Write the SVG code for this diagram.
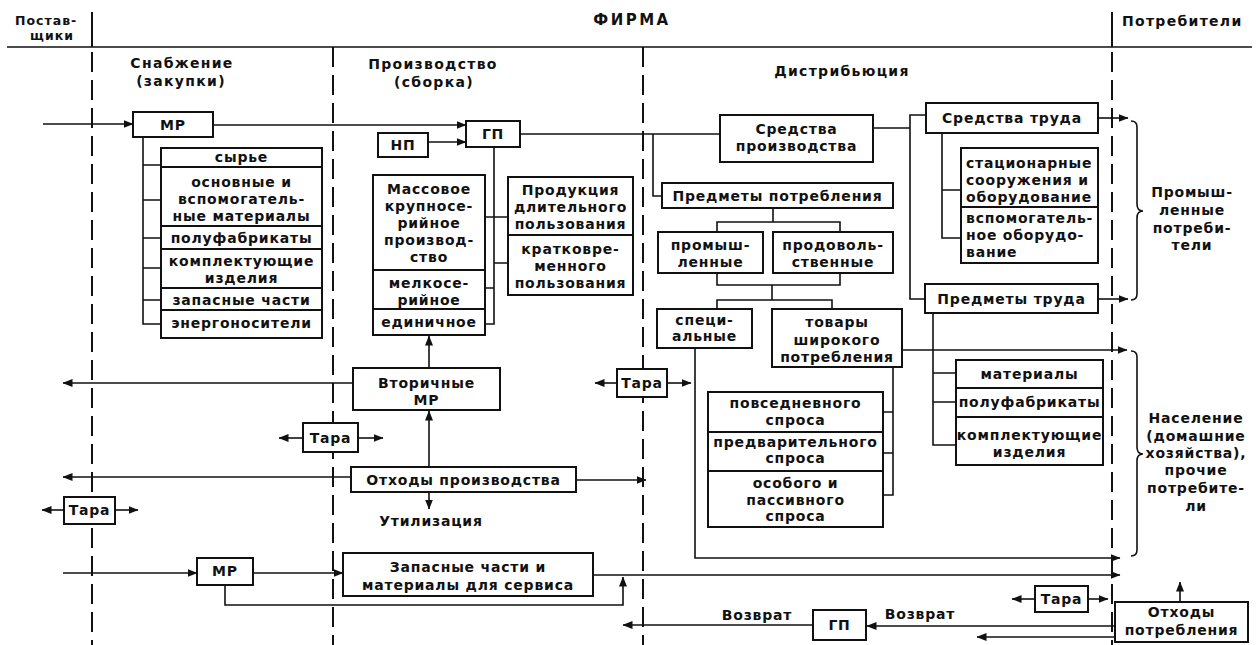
<svg xmlns="http://www.w3.org/2000/svg" width="1259" height="645" viewBox="0 0 1259 645">
  <style>
    .box { fill: #fff; stroke: #111; stroke-width: 2; }
    .div { stroke: #111; stroke-width: 2; }
    .ln { fill: none; stroke: #111; stroke-width: 1.6; }
    .arr { fill: none; stroke: #111; stroke-width: 1.6; marker-end: url(#ah); }
    .solid { stroke: #111; stroke-width: 2; }
    .dash { stroke: #111; stroke-width: 2; stroke-dasharray: 20 8; }
    .brace { fill: none; stroke: #111; stroke-width: 1.6; }
    text { font-family: "DejaVu Sans", "Liberation Sans", sans-serif; font-size: 14px; font-weight: bold; fill: #111; letter-spacing: 0.8px; }
    .c { text-anchor: middle; }
    .hd { letter-spacing: 1.3px; }
    .sm { font-size: 12.5px; letter-spacing: 1px; }
  </style>
  <defs>
    <marker id="ah" viewBox="0 0 10 8" refX="9.5" refY="4" markerWidth="10" markerHeight="8" markerUnits="userSpaceOnUse" orient="auto">
      <path d="M0,0 L10,4 L0,8 z" fill="#111"/>
    </marker>
  </defs>

  <rect width="1259" height="645" fill="#fff"/>

  <!-- zone frame: header rule and zone boundaries -->
  <g id="frame">
    <line class="solid" x1="7" y1="47" x2="1252" y2="47" style="stroke-width:1.6"/>
    <line class="solid" x1="92" y1="12" x2="92" y2="47"/>
    <line class="dash" x1="92" y1="52" x2="92" y2="645"/>
    <line class="dash" x1="333" y1="47" x2="333" y2="645"/>
    <line class="dash" x1="643" y1="47" x2="643" y2="645"/>
    <line class="solid" x1="1112" y1="12" x2="1112" y2="47"/>
    <line class="dash" x1="1112" y1="52" x2="1112" y2="645"/>
    <text class="sm" x="15" y="25">Постав-</text>
    <text class="sm c" x="52" y="40">щики</text>
    <text class="c" x="632" y="25" style="font-size:15px;letter-spacing:2.5px">ФИРМА</text>
    <text class="hd" x="1122" y="26">Потребители</text>
    <text class="c hd" x="182" y="68">Снабжение</text>
    <text class="c hd" x="181" y="86">(закупки)</text>
    <text class="c hd" x="433" y="69">Производство</text>
    <text class="c hd" x="434" y="87">(сборка)</text>
    <text class="c hd" x="842" y="76">Дистрибьюция</text>
  </g>

  <!-- connectors -->
  <g id="connectors">
    <path class="arr" d="M43,124 H133"/>
    <path class="arr" d="M213,125 H466"/>
    <path class="arr" d="M428,142 H466"/>
    <path class="ln" d="M520,134 H720"/>
    <path class="ln" d="M653,134 V196 H662"/>
    <!-- supply list bracket -->
    <path class="ln" d="M143,137 V324 H161 M143,165 H161 M143,200 H161 M143,238 H161 M143,268 H161 M143,300 H161"/>
    <!-- production bracket -->
    <path class="ln" d="M494,147 V324 H485 M485,217 H508 M485,288 H494 M494,263 H508"/>
    <!-- secondary resources and waste -->
    <path class="arr" d="M429,368 V336"/>
    <path class="arr" d="M429,467 V411"/>
    <path class="arr" d="M353,383 H63"/>
    <path class="arr" d="M351,477 H63"/>
    <path class="arr" d="M576,480 H646"/>
    <path class="arr" d="M429,492 V509"/>
    <!-- packaging flows -->
    <path class="arr" d="M303,438 H279"/>
    <path class="arr" d="M358,438 H383"/>
    <path class="arr" d="M64,510 H42"/>
    <path class="arr" d="M115,510 H138"/>
    <path class="arr" d="M617,383 H595"/>
    <path class="arr" d="M667,383 H691"/>
    <path class="arr" d="M1035,599 H1012"/>
    <path class="arr" d="M1088,599 H1108"/>
    <!-- service parts flow -->
    <path class="arr" d="M63,573 H197"/>
    <path class="arr" d="M253,573 H343"/>
    <path class="arr" d="M225,585 V605 H623 V577"/>
    <path class="arr" d="M593,575 H1120"/>
    <!-- consumer goods tree -->
    <path class="ln" d="M773,208 V222 M717,232 V222 H840 V232"/>
    <path class="ln" d="M717,273 V285 H840 V273 M772,285 V300 M717,309 V300 H832 V309"/>
    <path class="arr" d="M695,348 V558 H1120"/>
    <path class="arr" d="M902,350 H1127"/>
    <path class="ln" d="M893,367 V495 H883 M883,412 H893 M883,453 H893"/>
    <!-- means of production tree -->
    <path class="ln" d="M873,128 H910 M926,115 H910 V299 H925"/>
    <path class="arr" d="M1098,118 H1128"/>
    <path class="arr" d="M1098,299 H1128"/>
    <path class="ln" d="M942,133 V238 H961 M942,190 H961"/>
    <path class="ln" d="M933,312 V445 H956 M933,373 H956 M933,402 H956"/>
    <!-- braces -->
    <path class="brace" d="M1131,121 Q1137,121 1137,127 V204 Q1137,211 1143,211 Q1137,211 1137,218 V294 Q1137,300 1131,300"/>
    <path class="brace" d="M1131,351 Q1137,351 1137,357 V447 Q1137,454 1143,454 Q1137,454 1137,461 V550 Q1137,556 1131,556"/>
    <!-- returns -->
    <path class="arr" d="M1115,626 H867"/>
    <path class="arr" d="M813,625 H623"/>
    <path class="arr" d="M1115,637 H977"/>
    <path class="arr" d="M1180,602 V582"/>
  </g>

  <g id="mr-in">
    <rect class="box" x="133" y="112" width="80" height="25"/>
    <text class="c" x="173" y="130">МР</text>
  </g>

  <g id="supply-list">
    <rect class="box" x="161" y="148" width="161" height="190"/>
    <path class="div" d="M161,167 H322 M161,226 H322 M161,249 H322 M161,288 H322 M161,310 H322"/>
    <text class="c" x="241.5" y="162">сырье</text>
    <text class="c" x="241.5" y="187">основные и</text>
    <text class="c" x="241.5" y="204">вспомогатель-</text>
    <text class="c" x="241.5" y="221">ные материалы</text>
    <text class="c" x="241.5" y="243">полуфабрикаты</text>
    <text class="c" x="241.5" y="266">комплектующие</text>
    <text class="c" x="241.5" y="283">изделия</text>
    <text class="c" x="241.5" y="305">запасные части</text>
    <text class="c" x="241.5" y="328">энергоносители</text>
  </g>

  <g id="np">
    <rect class="box" x="378" y="133" width="50" height="24"/>
    <text class="c" x="403" y="150">НП</text>
  </g>

  <g id="gp">
    <rect class="box" x="466" y="121" width="54" height="26"/>
    <text class="c" x="493" y="139">ГП</text>
  </g>

  <g id="production-types">
    <rect class="box" x="373" y="175" width="112" height="160"/>
    <path class="div" d="M373,270 H485 M373,309 H485"/>
    <text class="c" x="429" y="194">Массовое</text>
    <text class="c" x="429" y="211">крупносе-</text>
    <text class="c" x="429" y="228">рийное</text>
    <text class="c" x="429" y="245">производ-</text>
    <text class="c" x="429" y="262">ство</text>
    <text class="c" x="429" y="288">мелкосе-</text>
    <text class="c" x="429" y="305">рийное</text>
    <text class="c" x="429" y="327">единичное</text>
  </g>

  <g id="product-use">
    <rect class="box" x="508" y="177" width="125" height="118"/>
    <path class="div" d="M508,235 H633"/>
    <text class="c" x="570.5" y="195">Продукция</text>
    <text class="c" x="570.5" y="212">длительного</text>
    <text class="c" x="570.5" y="229">пользования</text>
    <text class="c" x="570.5" y="254">кратковре-</text>
    <text class="c" x="570.5" y="271">менного</text>
    <text class="c" x="570.5" y="288">пользования</text>
  </g>

  <g id="secondary-mr">
    <rect class="box" x="353" y="368" width="147" height="42"/>
    <text class="c" x="426.5" y="388">Вторичные</text>
    <text class="c" x="426.5" y="405">МР</text>
  </g>

  <g id="production-waste">
    <rect class="box" x="351" y="467" width="225" height="25"/>
    <text class="c" x="463.5" y="485">Отходы производства</text>
  </g>

  <g id="utilization">
    <text class="c" x="431" y="526">Утилизация</text>
  </g>

  <g id="tara-production">
    <rect class="box" x="303" y="423" width="55" height="29"/>
    <text class="c" x="330.5" y="443">Тара</text>
  </g>

  <g id="tara-supply">
    <rect class="box" x="64" y="497" width="51" height="27"/>
    <text class="c" x="89.5" y="515">Тара</text>
  </g>

  <g id="tara-distribution">
    <rect class="box" x="617" y="369" width="50" height="28"/>
    <text class="c" x="642" y="388">Тара</text>
  </g>

  <g id="tara-consumers">
    <rect class="box" x="1035" y="586" width="53" height="26"/>
    <text class="c" x="1061.5" y="604">Тара</text>
  </g>

  <g id="mr-service">
    <rect class="box" x="197" y="558" width="56" height="27"/>
    <text class="c" x="225" y="576">МР</text>
  </g>

  <g id="service-parts">
    <rect class="box" x="343" y="553" width="250" height="43"/>
    <text class="c" x="468" y="572">Запасные части и</text>
    <text class="c" x="468" y="590">материалы для сервиса</text>
  </g>

  <g id="gp-return">
    <rect class="box" x="813" y="610" width="53" height="30"/>
    <text class="c" x="839.5" y="630">ГП</text>
  </g>

  <g id="return-labels">
    <text class="c" x="757" y="620">Возврат</text>
    <text class="c" x="920" y="619">Возврат</text>
  </g>

  <g id="consumption-waste">
    <rect class="box" x="1115" y="602" width="133" height="40"/>
    <text class="c" x="1181.5" y="617">Отходы</text>
    <text class="c" x="1181.5" y="635">потребления</text>
  </g>

  <g id="means-of-production">
    <rect class="box" x="720" y="115" width="153" height="47"/>
    <text class="c" x="796.5" y="134">Средства</text>
    <text class="c" x="796.5" y="151">производства</text>
  </g>

  <g id="consumer-goods">
    <rect class="box" x="662" y="183" width="231" height="25"/>
    <text class="c" x="777.5" y="201">Предметы потребления</text>
  </g>

  <g id="industrial-goods">
    <rect class="box" x="658" y="232" width="105" height="41"/>
    <text class="c" x="710.5" y="250">промыш-</text>
    <text class="c" x="710.5" y="267">ленные</text>
  </g>

  <g id="food-goods">
    <rect class="box" x="773" y="232" width="120" height="41"/>
    <text class="c" x="833" y="250">продоволь-</text>
    <text class="c" x="833" y="267">ственные</text>
  </g>

  <g id="special-goods">
    <rect class="box" x="657" y="309" width="95" height="39"/>
    <text class="c" x="704.5" y="325">специ-</text>
    <text class="c" x="704.5" y="341">альные</text>
  </g>

  <g id="mass-goods">
    <rect class="box" x="772" y="309" width="130" height="58"/>
    <text class="c" x="837" y="327">товары</text>
    <text class="c" x="837" y="345">широкого</text>
    <text class="c" x="837" y="362">потребления</text>
  </g>

  <g id="demand-types">
    <rect class="box" x="708" y="392" width="175" height="135"/>
    <path class="div" d="M708,432 H883 M708,471 H883"/>
    <text class="c" x="795.5" y="408">повседневного</text>
    <text class="c" x="795.5" y="425">спроса</text>
    <text class="c" x="795.5" y="447">предварительного</text>
    <text class="c" x="795.5" y="463">спроса</text>
    <text class="c" x="795.5" y="488">особого и</text>
    <text class="c" x="795.5" y="505">пассивного</text>
    <text class="c" x="795.5" y="521">спроса</text>
  </g>

  <g id="means-of-labour">
    <rect class="box" x="926" y="103" width="172" height="30"/>
    <text class="c" x="1012" y="123">Средства труда</text>
  </g>

  <g id="equipment">
    <rect class="box" x="961" y="148" width="137" height="115"/>
    <path class="div" d="M961,207 H1098"/>
    <text x="966" y="168">стационарные</text>
    <text x="966" y="185">сооружения и</text>
    <text x="966" y="202">оборудование</text>
    <text x="966" y="223">вспомогатель-</text>
    <text x="966" y="240">ное оборудо-</text>
    <text x="966" y="257">вание</text>
  </g>

  <g id="objects-of-labour">
    <rect class="box" x="925" y="284" width="173" height="29"/>
    <text class="c" x="1011.5" y="304">Предметы труда</text>
  </g>

  <g id="materials">
    <rect class="box" x="956" y="360" width="147" height="105"/>
    <path class="div" d="M956,388 H1103 M956,417 H1103"/>
    <text class="c" x="1029.5" y="379">материалы</text>
    <text class="c" x="1029.5" y="407">полуфабрикаты</text>
    <text class="c" x="1029.5" y="440">комплектующие</text>
    <text class="c" x="1029.5" y="457">изделия</text>
  </g>

  <g id="industrial-consumers">
    <text class="c" x="1192" y="197">Промыш-</text>
    <text class="c" x="1192" y="215">ленные</text>
    <text class="c" x="1192" y="233">потреби-</text>
    <text class="c" x="1192" y="250">тели</text>
  </g>

  <g id="households">
    <text class="c" x="1196" y="423">Население</text>
    <text class="c" x="1196" y="441">(домашние</text>
    <text class="c" x="1196" y="458">хозяйства),</text>
    <text class="c" x="1196" y="475">прочие</text>
    <text class="c" x="1196" y="493">потребите-</text>
    <text class="c" x="1196" y="511">ли</text>
  </g>
</svg>
